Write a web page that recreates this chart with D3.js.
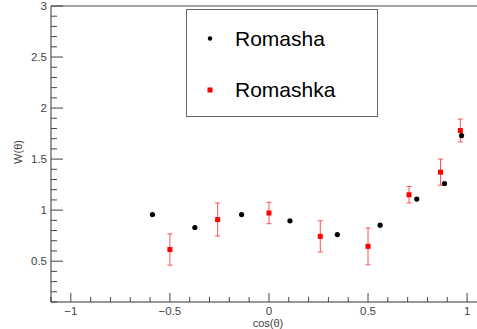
<!DOCTYPE html>
<html><head><meta charset="utf-8">
<script src="https://cdn.jsdelivr.net/npm/d3@7"></script>
<style>body{margin:0;background:#fff}svg{display:block}</style>
</head><body>
<script>
const xTicks = [-1, -0.5, 0, 0.5, 1];
const yTicks = [0.5, 1, 1.5, 2, 2.5, 3];
const romashaX = [-0.588, -0.374, -0.138, 0.106, 0.345, 0.561, 0.746, 0.886, 0.972];
const romashaY = [0.957, 0.830, 0.957, 0.895, 0.761, 0.853, 1.108, 1.261, 1.731];
const romashkaX = [-0.5, -0.259, 0, 0.259, 0.5, 0.707, 0.866, 0.966];
const romashkaY = [0.614, 0.908, 0.972, 0.743, 0.645, 1.151, 1.372, 1.780];
const romashkaErr = [0.153, 0.162, 0.105, 0.153, 0.180, 0.081, 0.128, 0.112];
const legendLabels = ["Romasha", "Romashka"];

const W = 477, H = 329;
const svg = d3.select("body").append("svg").attr("width", W).attr("height", H);
const x = d3.scaleLinear().domain([-1.1, 1.05]).range([51, 477]);
const y = d3.scaleLinear().domain([0.1, 3]).range([302, 6]);

// top frame line
svg.append("line").attr("x1", 51).attr("x2", 477).attr("y1", 6).attr("y2", 6)
  .attr("stroke", "#888").attr("stroke-width", 1.5);

const fmt = d => (d < 0 ? "\u2212" + Math.abs(d) : String(d));

// x axis
const xMinor = d3.range(-1.1, 1.05 + 1e-9, 0.1).map(v => Math.round(v * 10) / 10);
const gx = svg.append("g");
gx.append("line").attr("x1", 51).attr("x2", 477).attr("y1", 302).attr("y2", 302)
  .attr("stroke", "#333").attr("stroke-width", 1);
gx.selectAll("line.minor").data(xMinor).join("line").attr("class", "minor")
  .attr("x1", d => x(d)).attr("x2", d => x(d)).attr("y1", 302)
  .attr("y2", d => xTicks.some(t => Math.abs(t - d) < 1e-6) ? 293 : 297)
  .attr("stroke", "#444").attr("stroke-width", 1);
gx.selectAll("text").data(xTicks).join("text")
  .attr("x", d => x(d)).attr("y", 314.5).attr("text-anchor", "middle")
  .attr("font-family", "Liberation Sans, Arial, sans-serif").attr("font-size", 11.5)
  .attr("fill", "#444").text(fmt);
svg.append("text").attr("x", 268).attr("y", 327).attr("text-anchor", "middle")
  .attr("font-family", "Liberation Sans, Arial, sans-serif").attr("font-size", 11)
  .attr("fill", "#444").text("cos(\u03B8)");

// y axis
const yMinor = d3.range(0.1, 3 + 1e-9, 0.1).map(v => Math.round(v * 10) / 10);
const gy = svg.append("g");
gy.append("line").attr("x1", 51).attr("x2", 51).attr("y1", 6).attr("y2", 302)
  .attr("stroke", "#333").attr("stroke-width", 1);
gy.selectAll("line.minor").data(yMinor).join("line").attr("class", "minor")
  .attr("y1", d => y(d)).attr("y2", d => y(d)).attr("x1", 51)
  .attr("x2", d => yTicks.some(t => Math.abs(t - d) < 1e-6) ? 63 : 57)
  .attr("stroke", "#444").attr("stroke-width", 1);
gy.selectAll("text").data(yTicks).join("text")
  .attr("x", 47).attr("y", d => y(d) + 4).attr("text-anchor", "end")
  .attr("font-family", "Liberation Sans, Arial, sans-serif").attr("font-size", 11.5)
  .attr("fill", "#444").text(fmt);
svg.append("text").attr("transform", "translate(22,152) rotate(-90)")
  .attr("text-anchor", "middle")
  .attr("font-family", "Liberation Sans, Arial, sans-serif").attr("font-size", 11)
  .attr("fill", "#444").text("W(\u03B8)");

// Romashka error bars
const red = "#ff0000";
const eb = svg.append("g").attr("stroke", "#ff5050").attr("stroke-width", 1);
romashkaX.forEach((xv, i) => {
  const e = romashkaErr[i], yv = romashkaY[i];
  eb.append("line").attr("x1", x(xv)).attr("x2", x(xv)).attr("y1", y(yv + e)).attr("y2", y(yv - e));
  eb.append("line").attr("x1", x(xv) - 2.5).attr("x2", x(xv) + 2.5).attr("y1", y(yv + e)).attr("y2", y(yv + e));
  eb.append("line").attr("x1", x(xv) - 2.5).attr("x2", x(xv) + 2.5).attr("y1", y(yv - e)).attr("y2", y(yv - e));
});
svg.append("g").selectAll("rect").data(romashkaX).join("rect")
  .attr("x", d => x(d) - 2.5).attr("y", (d, i) => y(romashkaY[i]) - 2.5)
  .attr("width", 5).attr("height", 5).attr("fill", red);

// Romasha points
svg.append("g").selectAll("circle").data(romashaX).join("circle")
  .attr("cx", d => x(d)).attr("cy", (d, i) => y(romashaY[i])).attr("r", 2.6)
  .attr("fill", "#000");

// legend
const lg = svg.append("g");
lg.append("rect").attr("x", 186.5).attr("y", 9.5).attr("width", 191).attr("height", 107)
  .attr("fill", "#fff").attr("stroke", "#666").attr("stroke-width", 1);
lg.append("circle").attr("cx", 210).attr("cy", 38.5).attr("r", 2.2).attr("fill", "#000");
lg.append("rect").attr("x", 207.5).attr("y", 87.5).attr("width", 5).attr("height", 5).attr("fill", red);
lg.selectAll("text").data(legendLabels).join("text")
  .attr("x", 235).attr("y", (d, i) => i === 0 ? 45.5 : 97)
  .attr("font-family", "Liberation Sans, Arial, sans-serif").attr("font-size", 21)
  .attr("fill", "#000").text(d => d);
</script>
</body></html>
